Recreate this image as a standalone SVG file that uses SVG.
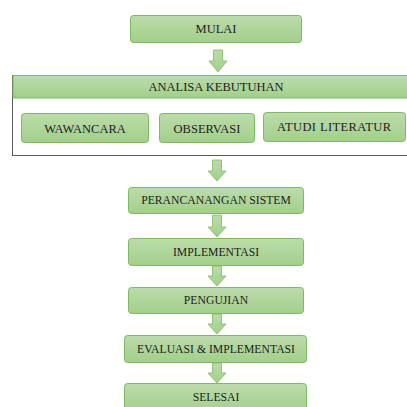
<svg xmlns="http://www.w3.org/2000/svg" width="407" height="407" viewBox="0 0 407 407">
<defs>
<linearGradient id="g" x1="0" y1="0" x2="0" y2="1">
<stop offset="0" stop-color="#bcdcab"/>
<stop offset="1" stop-color="#a2cf8b"/>
</linearGradient>
<style>
.box{fill:url(#g);stroke:#80b962;stroke-width:1}
.arr{fill:url(#g);stroke:#80b962;stroke-width:0.8}
text{font-family:'Liberation Serif','Times New Roman',serif;font-size:12.5px;fill:#1e1e1e;text-anchor:middle}
text.s{font-size:11.7px}
</style>
</defs>
<rect width="407" height="407" fill="#ffffff"/>
<g id="connectors">
<polygon class="arr" points="213.5,50 222.5,50 222.5,61 227,61 218,72 209,61 213.5,61"/>
<polygon class="arr" points="212.5,160 221.5,160 221.5,171 226,171 217,181 208,171 212.5,171"/>
<polygon class="arr" points="212.5,215 221.5,215 221.5,227 226,227 217,237 208,227 212.5,227"/>
<polygon class="arr" points="212.5,266 221.5,266 221.5,276 226,276 217,286 208,276 212.5,276"/>
<polygon class="arr" points="212.5,314 221.5,314 221.5,324 226,324 217,334 208,324 212.5,324"/>
<polygon class="arr" points="212.5,363 221.5,363 221.5,373 226,373 217,383 208,373 212.5,373"/>
</g>
<g id="mulai">
<rect class="box" x="130.5" y="15.5" width="171" height="27" rx="3"/>
<text font-family="Liberation Serif, serif" x="216" y="32.5">MULAI</text>
</g>
<g id="analisa">
<rect x="12.5" y="75.5" width="400" height="80" fill="#ffffff" stroke="#5a5a5a" stroke-width="1"/>
<rect class="box" x="13" y="75.5" width="400" height="22.5"/>
<text font-family="Liberation Serif, serif" x="216" y="91">ANALISA KEBUTUHAN</text>
</g>
<g id="wawancara">
<rect class="box" x="21.5" y="113.5" width="127" height="29" rx="3"/>
<text font-family="Liberation Serif, serif" x="85" y="132.5">WAWANCARA</text>
</g>
<g id="observasi">
<rect class="box" x="159.5" y="113.5" width="95" height="29" rx="3"/>
<text font-family="Liberation Serif, serif" x="207" y="132.5">OBSERVASI</text>
</g>
<g id="studi">
<rect class="box" x="263.5" y="112.5" width="142" height="29" rx="3"/>
<text font-family="Liberation Serif, serif" x="334" y="131" textLength="114">ATUDI LITERATUR</text>
</g>
<g id="perancangan">
<rect class="box" x="128.5" y="187.5" width="175" height="26" rx="3"/>
<text class="s" font-family="Liberation Serif, serif" x="216" y="204">PERANCANANGAN SISTEM</text>
</g>
<g id="implementasi">
<rect class="box" x="128.5" y="238.5" width="175" height="27" rx="3"/>
<text class="s" font-family="Liberation Serif, serif" x="216" y="255.5">IMPLEMENTASI</text>
</g>
<g id="pengujian">
<rect class="box" x="128.5" y="287.5" width="175" height="26" rx="3"/>
<text class="s" font-family="Liberation Serif, serif" x="216" y="303.5">PENGUJIAN</text>
</g>
<g id="evaluasi">
<rect class="box" x="124.5" y="335.5" width="182" height="27" rx="3"/>
<text class="s" font-family="Liberation Serif, serif" x="216" y="352.5">EVALUASI &amp; IMPLEMENTASI</text>
</g>
<g id="selesai">
<rect class="box" x="124.5" y="383.5" width="182" height="30" rx="3"/>
<text class="s" font-family="Liberation Serif, serif" x="216" y="400.5">SELESAI</text>
</g>
</svg>
